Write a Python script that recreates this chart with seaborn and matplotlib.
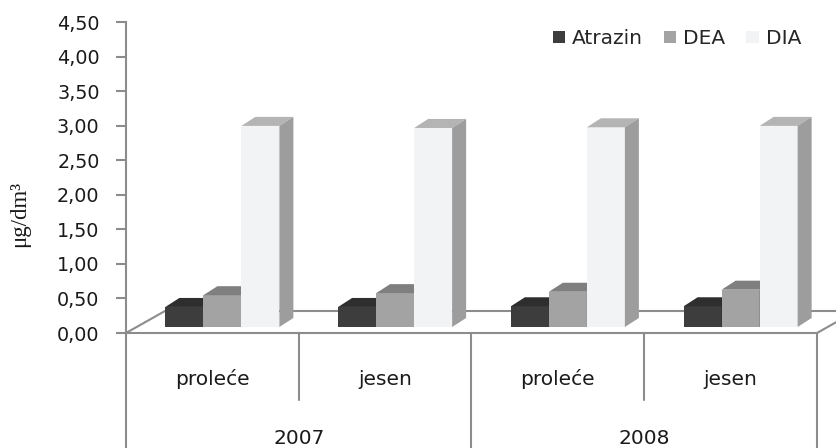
import numpy as np
import pandas as pd
import seaborn as sns
import matplotlib
matplotlib.use("Agg")
import matplotlib.pyplot as plt
from matplotlib.patches import Polygon
from matplotlib.transforms import ScaledTranslation, blended_transform_factory

# data (ug/dm3)
years = ["2007", "2007", "2008", "2008"]
seasons = ["proleće", "jesen", "proleće", "jesen"]
compounds = ["Atrazin", "DEA", "DIA"]
atrazin = [0.29, 0.29, 0.30, 0.30]
dea = [0.46, 0.49, 0.51, 0.54]
dia = [2.91, 2.88, 2.89, 2.91]
y_ticks = [0.0, 0.5, 1.0, 1.5, 2.0, 2.5, 3.0, 3.5, 4.0, 4.5]

front_colors = {"Atrazin": "#3d3d3d", "DEA": "#a3a3a3", "DIA": "#f2f3f5"}
top_colors = ["#2e2e2e", "#7f7f7f", "#b4b4b4"]
side_colors = ["#262626", "#6e6e6e", "#9d9d9d"]
line_col = "#8c8c8c"

periods = [f"{y} {s}" for y, s in zip(years, seasons)]
rows = []
for name, vals in zip(compounds, [atrazin, dea, dia]):
    for p, v in zip(periods, vals):
        rows.append({"period": p, "compound": name, "value": v})
df = pd.DataFrame(rows)

sns.set_style("white")
plt.rcParams["font.family"] = ["DejaVu Sans"]

W, H, DPI = 837, 448, 100
fig = plt.figure(figsize=(W / DPI, H / DPI), dpi=DPI)
ax = fig.add_axes([126 / W, 115 / H, 691 / W, 311 / H])

sns.barplot(data=df, x="period", y="value", hue="compound", order=periods,
            hue_order=compounds, palette=front_colors, width=0.66,
            errorbar=None, linewidth=0, ax=ax)
handles, labels = ax.get_legend_handles_labels()
ax.get_legend().remove()

ax.set_xlim(-0.5, len(periods) - 0.5)
ax.set_ylim(0, 4.5)

# pixel -> data units
ux = len(periods) / 691
uy = 4.5 / 311

# fake 3d: shift the front faces into the middle of the floor, add top and side
shift = ScaledTranslation(10 / DPI, 6 / DPI, fig.dpi_scale_trans)
dx, dy = 14 * ux, 9 * uy
bars = sorted(ax.patches, key=lambda p: p.get_x())
for i, bar in enumerate(bars):
    k = [n for n, c in front_colors.items()
         if np.allclose(matplotlib.colors.to_rgb(c), bar.get_facecolor()[:3], atol=0.01)][0]
    k = compounds.index(k)
    x, w, h = bar.get_x(), bar.get_width(), bar.get_height()
    z = 2 + i * 0.01
    bar.set_transform(ax.transData + shift)
    bar.set_zorder(z)
    bar.set_clip_on(False)
    top = Polygon([(x, h), (x + w, h), (x + w + dx, h + dy), (x + dx, h + dy)],
                  closed=True, facecolor=top_colors[k], edgecolor="none",
                  transform=ax.transData + shift, zorder=z, clip_on=False)
    side = Polygon([(x + w, 0), (x + w, h), (x + w + dx, h + dy), (x + w + dx, dy)],
                   closed=True, facecolor=side_colors[k], edgecolor="none",
                   transform=ax.transData + shift, zorder=z, clip_on=False)
    ax.add_patch(top)
    ax.add_patch(side)

# floor
fx, fy = 39 * ux, 22 * uy
x0, x1 = -0.5, len(periods) - 0.5
ax.plot([x0, x0 + fx, x1 + fx], [0, fy, fy], color=line_col, lw=1.5,
        zorder=1, clip_on=False)
ax.plot([x1, x1 + fx], [0, fy], color=line_col, lw=1.5, zorder=1, clip_on=False)

# spines and ticks
sns.despine(ax=ax, top=True, right=True)
for s in ["left", "bottom"]:
    ax.spines[s].set_color(line_col)
    ax.spines[s].set_linewidth(1.5)
ax.set_yticks(y_ticks)
ax.set_yticklabels([f"{v:.2f}".replace(".", ",") for v in y_ticks])
ax.tick_params(axis="y", left=True, length=7, width=1.5, color=line_col,
               pad=12, labelsize=13.8, labelcolor="#1a1a1a")
ax.set_xticks([])
ax.set_xlabel("")
ax.set_ylabel("")

# category dividers under the axis
trans = blended_transform_factory(ax.transData, ax.transAxes)
bottom = -115 / 311
mid = -67 / 311
for xv in [-0.5, 1.5, 3.5]:
    ax.plot([xv, xv], [0, bottom], color=line_col, lw=1.5, transform=trans, clip_on=False)
for xv in [0.5, 2.5]:
    ax.plot([xv, xv], [0, mid], color=line_col, lw=1.5, transform=trans, clip_on=False)

for i, s in enumerate(seasons):
    ax.text(i, -46 / 311, s, transform=trans, ha="center", va="center",
            fontsize=14.5, color="#1a1a1a")
for j, y in enumerate(["2007", "2008"]):
    ax.text(0.5 + 2 * j, -105 / 311, y, transform=trans, ha="center", va="center",
            fontsize=14.5, color="#1a1a1a")

fig.text(20 / W, 1 - 214 / H, "μg/dm³", rotation=90, ha="center", va="center",
         fontsize=16.5, family=["Liberation Serif", "DejaVu Serif"], color="#1a1a1a")

fig.legend(handles, labels, loc="upper right", bbox_to_anchor=(801 / W, 1 - 29 / H),
           ncol=3, frameon=False, fontsize=14.5, handlelength=0.6, handleheight=0.6,
           handletextpad=0.35, columnspacing=1.05, borderpad=0, borderaxespad=0)

fig.savefig("out.png", dpi=DPI)
